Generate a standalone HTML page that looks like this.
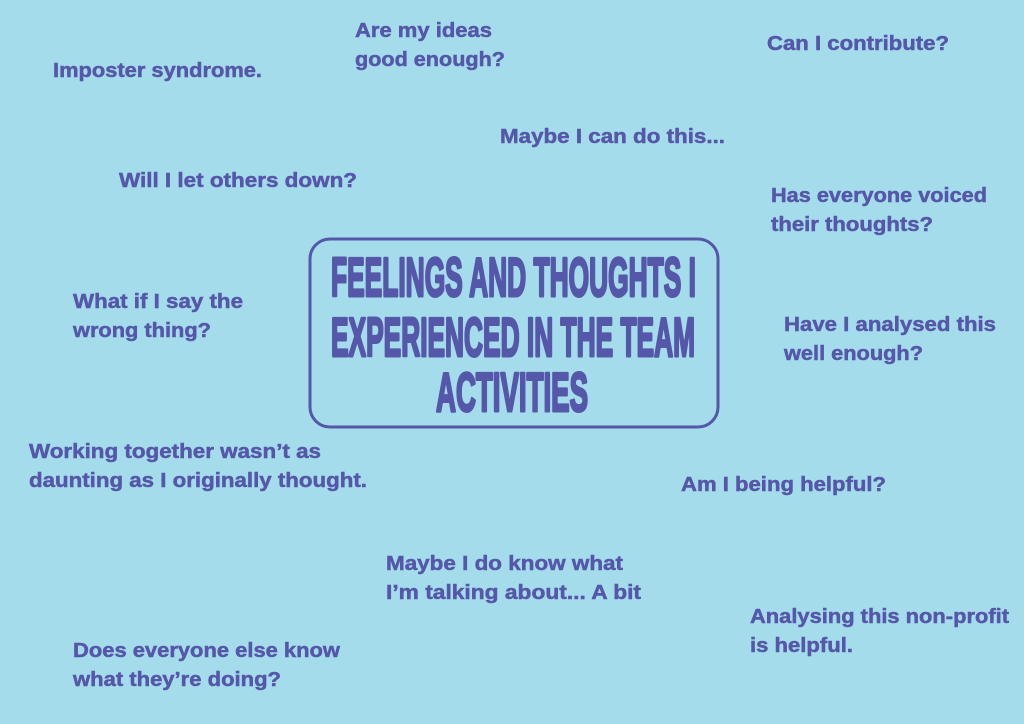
<!DOCTYPE html>
<html><head><meta charset="utf-8"><style>
html,body{margin:0;padding:0;width:1024px;height:724px;overflow:hidden;background:#a5dcec}
svg{display:block}
text{font-family:"Liberation Sans",sans-serif;font-weight:bold;fill:#5557a9;font-size:20px;stroke:#5557a9;stroke-width:0.5}
.t{font-family:"Liberation Sans Narrow","Liberation Sans",sans-serif;font-size:55px;stroke-width:3;stroke-linejoin:round}
</style></head><body>
<svg width="1024" height="724" viewBox="0 0 1024 724">
<rect x="0" y="0" width="1024" height="724" fill="#a5dcec"/>
<rect x="310" y="239" width="408" height="188" rx="20" ry="20" fill="none" stroke="#5557a9" stroke-width="3"/>
<text class="t" x="331" y="296" textLength="365" lengthAdjust="spacingAndGlyphs">FEELINGS AND THOUGHTS I</text>
<text class="t" x="331" y="356" textLength="364" lengthAdjust="spacingAndGlyphs">EXPERIENCED IN THE TEAM</text>
<text class="t" x="436" y="411" textLength="152" lengthAdjust="spacingAndGlyphs">ACTIVITIES</text>
<g>
<text x="53" y="77" textLength="209" lengthAdjust="spacingAndGlyphs">Imposter syndrome.</text>
<text x="355" y="37" textLength="137" lengthAdjust="spacingAndGlyphs">Are my ideas</text>
<text x="355" y="66" textLength="150" lengthAdjust="spacingAndGlyphs">good enough?</text>
<text x="767" y="50" textLength="182" lengthAdjust="spacingAndGlyphs">Can I contribute?</text>
<text x="500" y="143" textLength="225" lengthAdjust="spacingAndGlyphs">Maybe I can do this...</text>
<text x="119" y="187" textLength="238" lengthAdjust="spacingAndGlyphs">Will I let others down?</text>
<text x="771" y="202" textLength="216" lengthAdjust="spacingAndGlyphs">Has everyone voiced</text>
<text x="771" y="231" textLength="162" lengthAdjust="spacingAndGlyphs">their thoughts?</text>
<text x="73" y="308" textLength="170" lengthAdjust="spacingAndGlyphs">What if I say the</text>
<text x="73" y="337" textLength="138" lengthAdjust="spacingAndGlyphs">wrong thing?</text>
<text x="784" y="331" textLength="212" lengthAdjust="spacingAndGlyphs">Have I analysed this</text>
<text x="784" y="360" textLength="139" lengthAdjust="spacingAndGlyphs">well enough?</text>
<text x="29" y="458" textLength="292" lengthAdjust="spacingAndGlyphs">Working together wasn’t as</text>
<text x="29" y="487" textLength="338" lengthAdjust="spacingAndGlyphs">daunting as I originally thought.</text>
<text x="681" y="491" textLength="205" lengthAdjust="spacingAndGlyphs">Am I being helpful?</text>
<text x="386" y="570" textLength="237" lengthAdjust="spacingAndGlyphs">Maybe I do know what</text>
<text x="386" y="599" textLength="255" lengthAdjust="spacingAndGlyphs">I’m talking about... A bit</text>
<text x="750" y="623" textLength="259" lengthAdjust="spacingAndGlyphs">Analysing this non-profit</text>
<text x="750" y="652" textLength="103" lengthAdjust="spacingAndGlyphs">is helpful.</text>
<text x="73" y="657" textLength="267" lengthAdjust="spacingAndGlyphs">Does everyone else know</text>
<text x="73" y="686" textLength="208" lengthAdjust="spacingAndGlyphs">what they’re doing?</text>
</g>
</svg>
</body></html>
